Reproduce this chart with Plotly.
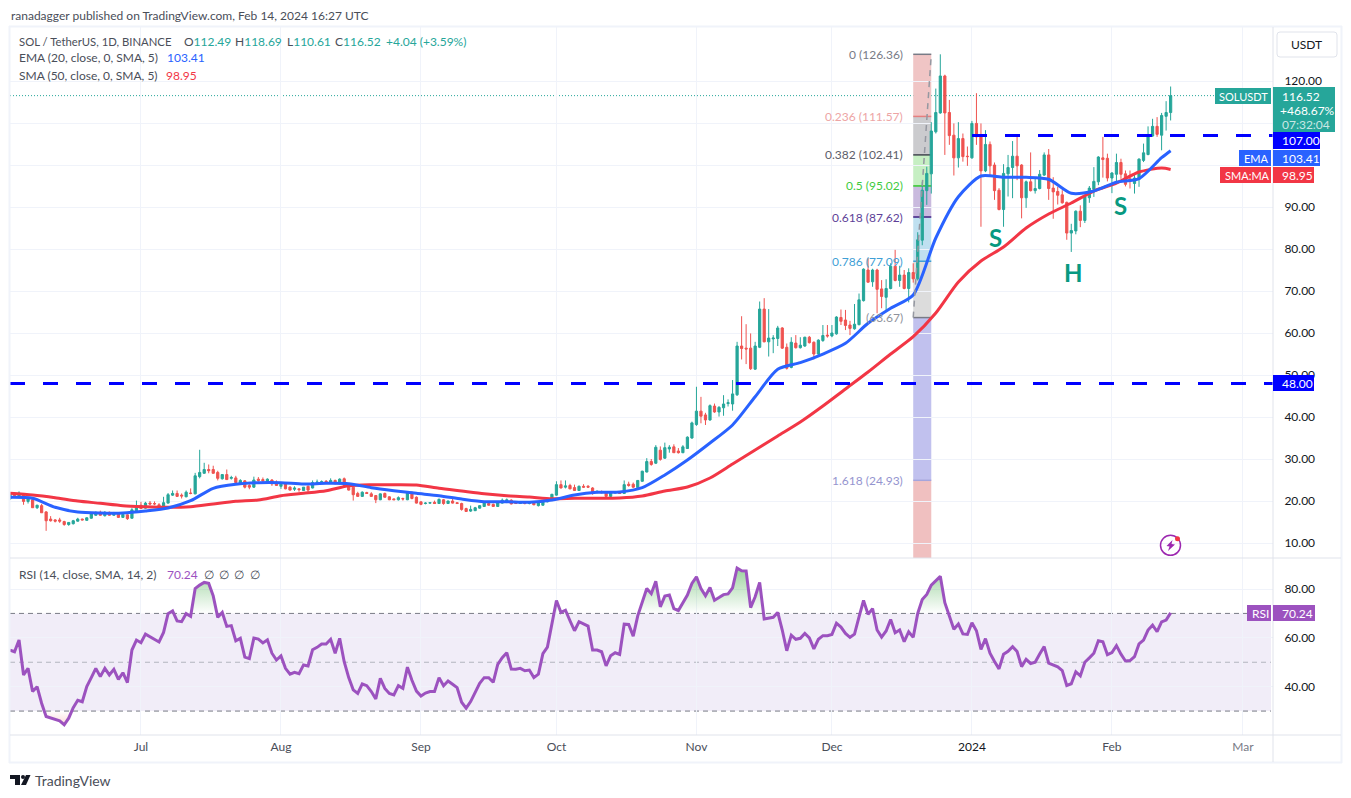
import pandas as pd
import plotly.graph_objects as go

# (open, high, low, close) per day
ohlc_jun = [
    (20.5,22.0,20.3,21.7),(21.6,21.9,21.0,21.3),(21.2,22.3,21.0,21.9),(21.7,21.9,19.1,19.9),(19.9,21.0,19.4,20.6),
    (20.3,20.6,18.4,18.4),(18.4,19.1,18.1,19.0),(18.9,19.3,17.2,17.2),(17.4,17.6,12.9,15.3),(15.7,16.4,15.1,15.3),
    (15.5,15.7,14.9,15.2),(15.5,16.0,14.8,15.2),(15.1,15.3,14.1,14.4),(14.4,15.0,14.1,14.9),(14.6,15.5,14.4,15.3),
    (15.2,16.0,15.1,15.7),(15.7,15.8,15.4,15.5),(15.4,16.1,15.3,16.0),(15.9,17.0,15.8,16.9),(16.6,17.5,16.5,17.3),
    (17.3,17.7,16.5,16.6),(16.5,17.6,16.3,17.3),(17.3,17.5,16.5,16.6),(16.6,17.4,16.5,17.1),(17.0,17.2,16.0,16.1),
    (16.1,17.0,16.0,16.8),(16.7,16.8,15.5,15.8),(15.9,18.3,15.8,17.9),(17.7,20.1,17.3,18.9),
]
ohlc_jul = [
    (19.0,19.8,18.1,18.2),(18.3,19.8,18.2,19.5),(19.5,20.0,19.0,19.3),(19.4,19.9,19.0,19.3),(19.1,19.5,18.5,18.6),
    (18.8,21.0,18.6,19.6),(19.5,21.9,19.4,21.5),(21.4,22.5,21.2,21.8),(21.8,22.5,21.0,21.1),(21.4,21.8,20.6,21.2),
    (21.0,22.5,20.9,22.1),(21.9,23.0,21.6,21.8),(21.7,26.7,21.6,26.0),(25.8,32.2,25.4,26.8),(26.6,29.1,26.5,27.5),
    (27.5,28.7,26.6,27.2),(27.5,28.4,26.5,26.6),(26.8,27.2,24.9,25.4),(25.3,26.4,25.1,26.3),(26.3,27.5,25.0,25.1),
    (25.4,26.0,25.1,25.6),(25.5,26.0,24.3,24.4),(24.3,25.2,24.0,24.9),(24.8,25.0,23.0,23.3),(23.7,24.0,22.8,23.3),
    (23.3,25.8,23.1,25.0),(25.2,25.7,24.6,24.9),(25.1,25.6,24.5,24.8),(24.5,25.4,24.4,25.2),(25.0,25.2,23.6,24.1),
    (24.5,24.9,23.6,23.7),
]
ohlc_aug = [
    (23.5,24.4,22.9,24.0),(24.2,24.5,22.8,22.9),(23.3,23.5,22.5,22.6),(22.8,23.5,22.4,23.1),(22.9,23.0,22.2,22.7),
    (22.5,23.3,22.4,23.3),(23.5,23.7,21.9,22.6),(23.1,24.9,23.0,24.4),(24.3,25.1,23.9,24.5),(24.4,24.9,24.2,24.6),
    (24.7,25.0,24.1,24.3),(24.4,25.4,24.3,24.9),(24.9,25.1,24.0,24.1),(24.1,25.4,24.0,25.2),(25.3,25.6,23.5,23.7),
    (24.0,24.2,22.5,22.6),(23.3,23.5,20.1,21.5),(21.8,22.2,21.0,21.1),(21.1,22.3,21.0,22.1),(22.0,22.2,21.7,21.8),
    (21.7,22.1,21.0,21.1),(21.3,21.4,19.5,20.3),(20.3,21.8,20.2,21.7),(21.8,22.0,20.8,20.9),(21.0,21.1,20.2,20.3),
    (20.5,20.6,20.3,20.3),(20.3,21.1,20.1,20.8),(20.6,20.8,20.1,20.5),(20.3,22.1,20.2,21.9),(21.8,22.3,20.4,20.6),
    (20.9,21.1,19.4,19.5),
]
ohlc_sep = [
    (19.8,19.9,19.0,19.2),(19.4,19.7,19.2,19.5),(19.5,19.7,19.3,19.6),(19.7,20.1,19.3,19.4),(19.4,20.6,19.3,20.4),
    (20.3,20.5,19.1,19.4),(19.4,20.1,19.3,20.0),(20.0,20.5,19.4,19.5),(19.6,19.7,19.3,19.4),(19.4,19.6,17.7,18.0),
    (18.2,18.4,17.4,17.5),(17.6,18.9,17.4,18.0),(17.7,18.6,17.6,18.4),(18.3,19.0,18.2,18.9),(18.7,19.6,18.6,19.5),
    (19.4,19.6,18.9,19.0),(19.2,19.4,18.6,18.7),(18.7,19.8,18.6,19.7),(19.5,20.6,19.4,20.2),(19.7,20.6,19.5,20.3),
    (20.2,20.4,19.2,19.3),(19.7,19.9,19.3,19.4),(19.4,19.7,19.3,19.6),(19.6,19.8,19.2,19.4),(19.4,19.7,19.2,19.6),
    (19.5,19.7,19.0,19.1),(18.9,19.7,18.7,19.5),(19.0,20.1,18.9,20.0),(19.8,20.5,19.7,20.2),(20.1,21.7,20.0,21.6),
]
ohlc_oct = [
    (21.4,24.7,21.3,23.9),(23.9,24.9,23.0,23.1),(23.3,24.9,23.0,23.6),(23.7,24.1,22.8,22.9),(23.2,23.9,22.4,22.5),
    (22.5,23.7,22.4,23.5),(23.5,24.0,23.1,23.3),(23.5,23.8,23.1,23.3),(23.1,23.3,21.5,21.8),(22.1,22.5,21.8,22.3),
    (22.2,22.5,21.8,22.0),(22.0,22.2,21.0,21.1),(21.1,22.3,21.0,22.1),(21.9,22.2,21.8,22.1),(22.0,22.2,21.7,21.8),
    (21.8,24.9,21.7,23.9),(24.0,24.6,23.4,23.7),(24.0,24.4,23.1,23.3),(23.2,25.0,23.0,24.9),(24.7,27.2,24.6,27.1),
    (26.9,30.2,26.8,29.4),(29.4,30.0,28.4,28.7),(29.0,33.3,28.8,32.8),(32.1,33.0,29.6,29.9),(30.2,33.9,30.0,32.7),
    (32.4,33.3,31.5,32.8),(32.9,33.5,31.5,31.5),(31.9,32.6,31.3,31.5),(31.5,33.3,31.4,32.9),(32.5,35.4,32.4,35.2),
    (35.0,38.9,34.8,38.6),
]
ohlc_nov = [
    (38.2,47.2,37.9,41.4),(41.4,44.8,38.5,40.2),(40.5,41.0,38.1,39.3),(39.3,43.0,39.1,42.7),(42.6,43.2,41.0,41.2),
    (41.2,42.6,40.1,42.3),(42.2,45.2,40.3,43.1),(43.2,44.2,42.5,43.4),(43.1,48.8,41.5,45.5),(45.3,57.9,45.0,56.9),
    (56.9,64.0,53.7,56.3),(56.4,62.1,52.6,56.2),(56.4,59.9,51.2,51.5),(51.4,57.9,51.2,56.9),(56.6,67.5,56.4,65.7),
    (65.7,68.3,57.8,57.9),(57.9,65.7,54.4,58.8),(58.6,59.5,55.2,58.8),(58.7,61.7,56.9,61.2),(61.2,61.4,56.2,56.4),
    (56.6,57.5,51.3,51.6),(51.8,59.0,51.6,57.8),(57.6,59.5,56.3,56.5),(56.5,59.0,56.3,57.1),(56.9,59.1,56.7,59.0),
    (59.0,59.3,57.5,57.7),(57.8,58.0,53.7,55.0),(55.0,58.5,54.4,58.3),(58.2,61.9,57.9,59.4),(59.5,61.9,58.9,59.3),
]
ohlc_dec = [
    (59.3,61.9,59.0,60.0),(59.8,64.0,59.6,63.8),(63.7,65.6,61.9,62.8),(63.1,65.5,60.7,61.8),(61.9,62.9,59.5,61.1),
    (61.0,66.9,60.8,62.1),(62.0,69.4,61.8,67.9),(67.7,75.4,67.5,75.2),(75.0,77.8,72.0,72.1),(72.2,75.3,71.0,75.0),
    (75.0,75.3,64.7,70.4),(70.5,72.6,65.9,68.7),(68.5,72.8,65.1,70.6),(70.6,76.6,70.4,75.9),(75.9,79.8,72.3,72.5),
    (72.5,76.0,71.0,73.8),(73.8,75.0,70.4,70.6),(70.6,75.4,67.3,74.4),(74.4,76.6,72.0,72.9),(72.9,84.0,72.5,82.2),
    (82.1,96.0,80.9,94.0),(93.9,99.6,90.5,98.0),(97.9,110.2,93.2,108.1),(107.9,118.2,107.5,112.5),(112.4,126.36,112.2,121.2),
    (121.2,121.5,102.4,112.4),(112.5,115.5,104.8,107.0),(107.1,109.9,97.5,101.7),(101.7,110.2,99.4,106.3),(106.3,107.5,100.8,102.0),
    (102.1,104.4,99.8,102.0),
]
ohlc_jan = [
    (101.7,110.5,101.5,109.9),(109.9,117.1,104.8,106.7),(106.9,109.9,85.3,98.6),(98.6,108.3,98.3,104.9),(104.9,105.6,97.6,99.8),
    (100.0,100.6,91.7,93.9),(94.0,94.5,89.2,89.4),(89.4,100.2,85.3,98.0),(97.9,102.4,92.5,99.4),(99.4,105.7,92.1,102.1),
    (102.1,107.3,96.4,99.8),(100.0,100.2,87.3,92.2),(92.2,96.3,89.8,96.0),(96.0,103.0,93.7,93.9),(93.9,96.8,93.2,94.4),
    (94.4,98.8,94.2,97.8),(97.6,103.0,97.4,102.4),(102.4,103.8,91.7,94.4),(94.5,97.1,87.2,93.6),(93.7,94.8,90.6,92.8),
    (92.9,94.0,90.8,91.0),(91.1,91.3,82.2,83.8),(83.8,86.0,79.3,84.4),(84.3,89.2,83.5,89.0),(89.0,90.4,85.2,86.8),
    (86.8,92.8,86.2,92.5),(92.2,95.0,91.0,94.5),(94.2,99.5,92.4,96.1),(96.0,102.1,95.2,101.9),(101.7,106.7,97.0,101.3),
    (101.6,102.7,96.1,96.9),
]
ohlc_feb = [
    (96.9,98.3,93.3,98.1),(97.8,102.7,95.6,100.6),(100.6,101.5,96.7,97.8),(97.9,98.7,94.9,95.4),(96.7,98.7,94.4,96.3),
    (95.6,97.9,93.2,96.9),(96.6,101.6,94.8,101.4),(101.1,105.1,100.7,102.9),(102.5,109.2,102.3,107.1),(106.9,111.0,106.7,109.2),
    (109.2,111.4,106.7,107.3),(107.1,112.4,103.5,111.8),(111.6,115.2,108.2,112.5),(112.49,118.69,110.61,116.52),
]

# RSI per day
rsi_jun = [55.0,54.3,59.1,44.8,47.5,38.0,40.0,33.2,27.8,27.3,26.5,26.0,24.4,27.1,31.4,34.4,33.8,40.0,43.7,47.5,44.1,47.5,44.8,47.1,43.0,45.7,41.7,55.0,59.1]
rsi_jul = [58.0,61.5,60.4,59.4,58.3,62.2,69.9,71.0,66.9,66.6,69.9,68.8,80.2,81.6,82.7,82.3,77.2,68.4,70.4,64.7,65.0,58.8,59.8,52.1,51.5,59.9,59.5,57.9,59.2,53.7,50.9]
rsi_aug = [52.6,47.5,45.1,45.9,45.3,48.9,48.5,55.1,56.1,57.5,57.5,59.4,53.7,59.8,50.2,43.7,38.7,37.2,41.1,40.4,38.0,35.0,43.4,39.3,37.2,36.6,40.4,39.3,48.0,42.6,38.2]
rsi_sep = [36.2,37.4,38.0,38.0,43.7,40.4,42.3,41.0,39.6,33.6,31.2,33.9,37.7,41.4,43.7,43.7,41.8,49.1,51.9,53.9,47.2,47.1,47.5,46.5,46.8,43.7,45.1,53.5,56.2,66.6]
rsi_oct = [75.3,70.4,71.3,67.0,62.9,66.6,65.6,64.8,55.0,55.0,54.3,48.5,52.7,53.9,53.2,65.6,65.5,60.7,69.0,75.0,80.2,78.1,83.2,72.7,77.1,77.5,72.0,71.2,74.1,77.5,82.3]
rsi_nov = [85.0,80.2,77.2,80.6,75.4,76.5,77.7,78.0,80.5,88.6,87.5,87.4,72.4,76.8,82.7,67.7,68.2,68.4,70.4,63.2,54.7,61.1,59.4,59.8,61.8,60.0,55.5,59.4,60.9,60.9]
rsi_dec = [61.4,66.0,64.4,61.8,60.2,61.5,68.6,75.3,69.6,72.0,63.2,60.3,62.8,67.5,62.1,63.2,58.4,62.5,60.2,70.0,75.7,77.8,81.6,83.3,85.2,74.4,69.3,63.5,65.7,61.6,61.4]
rsi_jan = [66.2,62.9,55.3,59.7,53.7,50.3,47.3,53.3,54.5,56.4,54.4,48.2,51.2,49.5,50.0,53.4,56.4,49.6,48.9,48.1,46.6,40.5,41.2,46.1,44.4,50.0,51.8,53.7,58.8,58.4,53.1]
rsi_feb = [54.0,56.8,53.3,50.5,50.7,52.3,57.5,59.1,63.2,65.2,62.5,66.5,67.3,70.24]

# moving averages, read every 5 days plus the last bar
ema_values = [20.88,20.64,18.50,17.38,17.14,17.14,17.62,18.33,20.07,23.02,23.98,24.36,24.36,24.05,24.21,24.12,23.17,22.45,
              21.83,21.26,20.48,19.83,19.83,19.69,20.24,21.43,22.07,22.14,23.17,26.19,29.76,33.81,38.10,44.83,51.36,52.93,
              55.00,57.55,62.31,65.88,69.05,82.62,92.45,97.38,97.07,97.07,96.60,93.26,93.81,95.88,96.74,101.74,103.41]
sma_values = [21.83,21.43,20.79,20.00,19.45,18.88,18.64,18.50,18.64,19.29,19.93,20.24,21.26,21.83,22.45,23.64,23.88,23.88,
              23.81,23.02,22.38,21.74,21.26,20.95,20.55,20.64,20.64,20.71,21.19,22.38,23.33,25.48,28.81,32.14,35.48,38.81,
              42.62,46.67,50.71,55.00,59.12,64.76,72.14,77.14,80.48,85.00,88.33,90.95,93.81,95.71,98.33,99.29,98.95]

month_ticks = ["2023-07-01","2023-08-01","2023-09-01","2023-10-01","2023-11-01","2023-12-01","2024-01-01","2024-02-01","2024-03-01"]
month_labels = ["Jul","Aug","Sep","Oct","Nov","Dec",'<span style="color:#131722">2024</span>',"Feb",'<span style="color:#787b86">Mar</span>']
price_ticks = [10,20,30,40,50,60,70,80,90,100,110,120]
# 100 and 110 sit behind the axis tags in the original
price_labels = ["10.00","20.00","30.00","40.00","50.00","60.00","70.00","80.00","90.00","","","120.00"]
rsi_ticks = [40,60,80]

fib_prices = [126.36,111.57,102.41,95.02,87.62,77.09,63.67,24.93]
fib_labels = ["0 (126.36)","0.236 (111.57)","0.382 (102.41)","0.5 (95.02)","0.618 (87.62)","0.786 (77.09)","(63.67)","1.618 (24.93)"]
fib_text = ["#787b86","#eda5a5","#5d606b","#3fcb3f","#5e3f98","#3f9fd6","#8f929c","#9595cf"]
fib_lines = ["#787b86","#e57f7f","#434651","#33c92d","#3f1d82","#3f9fd6","#787b86","#a5a5dc"]
fib_fills = ["#f0c5c5","#cbcbce","#c6efc3","#c9bade","#bfe0f0","#dcdcdc","#c1c1ee","#f0c0c0"]

W, H = 1351, 798
UP, DOWN = "#26a69a", "#ef5350"
BLUE, RED, PURPLE = "#2962ff", "#f23645", "#9c52bf"
FONT = "Lato"
PRICE_RANGE = [6.43, 132.86]
RSI_RANGE = [20.2, 92.7]
END = "2024-03-07 16:00"


def px(x):
    return x / W


def py(y):
    return 1 - y / H


ohlc = ohlc_jun + ohlc_jul + ohlc_aug + ohlc_sep + ohlc_oct + ohlc_nov + ohlc_dec + ohlc_jan + ohlc_feb
rsi = rsi_jun + rsi_jul + rsi_aug + rsi_sep + rsi_oct + rsi_nov + rsi_dec + rsi_jan + rsi_feb
df = pd.DataFrame(ohlc, columns=["open", "high", "low", "close"])
df["date"] = pd.date_range("2023-06-02", periods=len(df))
df["rsi"] = rsi
ma_dates = list(pd.date_range("2023-06-02", periods=52, freq="5D")) + [pd.Timestamp("2024-02-14")]

fig = go.Figure()

fig.add_trace(go.Candlestick(
    x=df["date"], open=df["open"], high=df["high"], low=df["low"], close=df["close"],
    increasing=dict(line=dict(color=UP, width=1), fillcolor=UP),
    decreasing=dict(line=dict(color=DOWN, width=1), fillcolor=DOWN),
    whiskerwidth=0, xaxis="x", yaxis="y",
))
fig.add_trace(go.Scatter(x=ma_dates, y=sma_values, mode="lines", xaxis="x", yaxis="y",
                         line=dict(color=RED, width=3, shape="spline", smoothing=0.7)))
fig.add_trace(go.Scatter(x=ma_dates, y=ema_values, mode="lines", xaxis="x", yaxis="y",
                         line=dict(color=BLUE, width=3, shape="spline", smoothing=0.7)))

# RSI overbought / oversold gradients
clear = "rgba(0,0,0,0)"
fig.add_trace(go.Scatter(x=df["date"], y=[70] * len(df), mode="lines", line=dict(color=clear, width=0), xaxis="x2", yaxis="y2"))
fig.add_trace(go.Scatter(
    x=df["date"], y=df["rsi"].clip(lower=70), mode="lines", line=dict(color=clear, width=0), fill="tonexty",
    fillgradient=dict(type="vertical", start=70, stop=90,
                      colorscale=[[0, "rgba(76,175,80,0)"], [1, "rgba(76,175,80,0.6)"]]),
    xaxis="x2", yaxis="y2"))
fig.add_trace(go.Scatter(x=df["date"], y=[30] * len(df), mode="lines", line=dict(color=clear, width=0), xaxis="x2", yaxis="y2"))
fig.add_trace(go.Scatter(
    x=df["date"], y=df["rsi"].clip(upper=30), mode="lines", line=dict(color=clear, width=0), fill="tonexty",
    fillgradient=dict(type="vertical", start=30, stop=20,
                      colorscale=[[0, "rgba(239,83,80,0)"], [1, "rgba(239,83,80,0.4)"]]),
    xaxis="x2", yaxis="y2"))
fig.add_trace(go.Scatter(x=df["date"], y=df["rsi"], mode="lines", line=dict(color=PURPLE, width=3), xaxis="x2", yaxis="y2"))

shapes = []
notes = []


def box(x0, y0, x1, y1, color, line=None):
    shapes.append(dict(type="rect", xref="paper", yref="paper", x0=px(x0), x1=px(x1), y0=py(y0), y1=py(y1),
                       fillcolor=color, line=dict(color=line or color, width=1 if line else 0), layer="above"))


def text(x, y, s, color="#4a4e59", size=12, anchor="left", **kw):
    notes.append(dict(xref="paper", yref="paper", x=px(x), y=py(y), text=s, showarrow=False, xanchor=anchor,
                      yanchor="middle", font=dict(family=FONT, size=size, color=color), borderpad=0, **kw))


def hline(x0, x1, y, color="#e0e3eb", width=1):
    shapes.append(dict(type="line", xref="paper", yref="paper", x0=px(x0), x1=px(x1), y0=py(y), y1=py(y),
                       line=dict(color=color, width=width), layer="above"))


def vline(x, y0, y1, color="#e0e3eb", width=1):
    shapes.append(dict(type="line", xref="paper", yref="paper", x0=px(x), x1=px(x), y0=py(y0), y1=py(y1),
                       line=dict(color=color, width=width), layer="above"))


# fibonacci bands
fib_start, fib_end = "2023-12-19", "2023-12-23"
fib_bottoms = fib_prices[1:] + [PRICE_RANGE[0]]
for top, bottom, fill in zip(fib_prices, fib_bottoms, fib_fills):
    shapes.append(dict(type="rect", xref="x", yref="y", x0=fib_start, x1=fib_end, y0=bottom, y1=top,
                       fillcolor=fill, line=dict(width=0), layer="below"))
for level, label, tcol, lcol in zip(fib_prices, fib_labels, fib_text, fib_lines):
    shapes.append(dict(type="line", xref="x", yref="y", x0=fib_start, x1=fib_end, y0=level, y1=level,
                       line=dict(color=lcol, width=1.5), layer="below"))
    notes.append(dict(xref="paper", yref="y", x=px(904), y=level, text=label, showarrow=False, xanchor="right",
                      yanchor="middle", font=dict(family=FONT, size=12, color=tcol), borderpad=0))
shapes.append(dict(type="line", xref="x", yref="y", x0=fib_start, x1=fib_end, y0=fib_prices[6], y1=fib_prices[0],
                   line=dict(color="#9598a1", width=1.5, dash="6px,5px"), layer="above"))

# levels
shapes.append(dict(type="line", xref="paper", yref="y", x0=px(972), x1=px(1273), y0=107, y1=107,
                   line=dict(color="#0000ff", width=3, dash="15px,18px"), layer="above"))
shapes.append(dict(type="line", xref="paper", yref="y", x0=px(10), x1=px(1273), y0=48, y1=48,
                   line=dict(color="#0000ff", width=3, dash="15px,18px"), layer="above"))
shapes.append(dict(type="line", xref="paper", yref="y", x0=px(10), x1=px(1273), y0=116.52, y1=116.52,
                   line=dict(color=UP, width=1, dash="1px,2px"), layer="below"))

# RSI band
shapes.append(dict(type="rect", xref="paper", yref="y2", x0=px(10), x1=px(1271), y0=30, y1=70,
                   fillcolor="rgba(126,87,194,0.11)", line=dict(width=0), layer="below"))
for level, col in [(70, "#787b86"), (50, "#b2b5be"), (30, "#787b86")]:
    shapes.append(dict(type="line", xref="paper", yref="y2", x0=px(10), x1=px(1271), y0=level, y1=level,
                       line=dict(color=col, width=1, dash="5px,4px"), layer="below"))

# frame
hline(9, 1342, 26.5, "#f0f3fa", 2)
hline(9, 1342, 762.5, "#f0f3fa", 2)
vline(9.5, 26, 763, "#f0f3fa", 2)
vline(1341.5, 26, 763, "#f0f3fa", 2)
hline(10, 1341, 558)
hline(10, 1341, 735)
vline(1273, 27, 762)

# USDT button
shapes.append(dict(type="path", xref="paper", yref="paper", layer="above", line=dict(color="#e0e3eb", width=1),
                   path="M {} {} L {} {} Q {} {} {} {} L {} {} Q {} {} {} {} L {} {} Q {} {} {} {} L {} {} Q {} {} {} {} Z".format(
                       px(1280), py(32), px(1334), py(32), px(1337), py(32), px(1337), py(35),
                       px(1337), py(54), px(1337), py(57), px(1334), py(57),
                       px(1280), py(57), px(1277), py(57), px(1277), py(54),
                       px(1277), py(35), px(1277), py(32), px(1280), py(32))))
text(1306, 44.5, "USDT", "#131722", anchor="center")

# axis tags
box(1215, 88, 1271, 104, UP)
text(1218, 96, "SOLUSDT", "#ffffff", size=11)
box(1273, 87, 1335, 132, UP)
text(1281, 96, "116.52", "#ffffff")
text(1279, 110, "+468.67%", "#ffffff")
text(1281, 124, "07:32:04", "rgba(255,255,255,0.75)")
box(1273, 132, 1320, 149, "#0000ff")
text(1281, 141, "107.00", "#ffffff")
box(1239, 150, 1271, 166, BLUE)
text(1243, 158, "EMA", "#ffffff", size=11)
box(1273, 150, 1320, 166, BLUE)
text(1281, 158, "103.41", "#ffffff")
box(1220, 167, 1271, 183, RED)
text(1224, 175, "SMA:MA", "#ffffff", size=11)
box(1273, 167, 1314, 183, RED)
text(1281, 175, "98.95", "#ffffff")
box(1273, 375, 1314, 391, "#0000ff")
text(1281, 383, "48.00", "#ffffff")
box(1247, 605, 1271, 621, PURPLE)
text(1251, 613, "RSI", "#ffffff")
box(1273, 605, 1315, 621, PURPLE)
text(1281, 613, "70.24", "#ffffff")

# legends
text(10, 15, "ranadagger published on TradingView.com, Feb 14, 2024 16:27 UTC")
text(18, 42, "SOL / TetherUS, 1D, BINANCE", size=11.3)
ohlc_xs = [183, 234, 286, 334]
ohlc_keys = ["O112.49", "H118.69", "L110.61", "C116.52"]
for x, key in zip(ohlc_xs, ohlc_keys):
    text(x, 42, '{}<span style="color:{}">{}</span>'.format(key[0], UP, key[1:]))
text(385, 42, "+4.04 (+3.59%)", UP)
text(18, 58, "EMA (20, close, 0, SMA, 5)")
text(166, 58, "103.41", BLUE)
text(18, 75, "SMA (50, close, 0, SMA, 5)")
text(165, 75, "98.95", RED)
text(18, 574, "RSI (14, close, SMA, 14, 2)")
text(166, 574, "70.24", PURPLE)
for x in [203, 218, 233, 249]:
    text(x, 574, "∅")

# pattern labels
for x, y, s in [(995, 237, "S"), (1073.5, 272, "H"), (1120.5, 205, "S")]:
    text(x, y, "<b>{}</b>".format(s), "#089981", size=24, anchor="center")

# lightning badge
shapes.append(dict(type="circle", xref="paper", yref="paper", x0=px(1160.5), x1=px(1180.5), y0=py(555.3), y1=py(535.3),
                   line=dict(color="#9c27b0", width=1.5), layer="above"))
shapes.append(dict(type="path", xref="paper", yref="paper", layer="above", fillcolor="#9c27b0", line=dict(width=0),
                   path="M {} {} L {} {} L {} {} L {} {} L {} {} L {} {} Z".format(
                       px(1172.5), py(540), px(1166.5), py(546), px(1169.5), py(546.5),
                       px(1168), py(551), px(1175), py(544.5), px(1171.5), py(544))))
shapes.append(dict(type="circle", xref="paper", yref="paper", x0=px(1175), x1=px(1180), y0=py(541.2), y1=py(536.2),
                   fillcolor="#f23645", line=dict(width=0), layer="above"))

# logo
shapes.append(dict(type="path", xref="paper", yref="paper", layer="above", fillcolor="#131722", line=dict(width=0),
                   path="M {} {} L {} {} L {} {} L {} {} L {} {} L {} {} Z".format(
                       px(10), py(775), px(20), py(775), px(20), py(785), px(15), py(785), px(15), py(779), px(10), py(779))))
shapes.append(dict(type="circle", xref="paper", yref="paper", x0=px(21), x1=px(25), y0=py(779), y1=py(775),
                   fillcolor="#131722", line=dict(width=0), layer="above"))
shapes.append(dict(type="path", xref="paper", yref="paper", layer="above", fillcolor="#131722", line=dict(width=0),
                   path="M {} {} L {} {} L {} {} L {} {} Z".format(
                       px(26), py(775), px(30.5), py(775), px(26), py(785), px(21), py(785))))
text(34, 780, "TradingView", "#4a4e59", size=14)

grid = "#f0f3fa"
fig.update_layout(
    width=W, height=H, margin=dict(l=0, r=0, t=0, b=0), autosize=False,
    paper_bgcolor="#ffffff", plot_bgcolor="#ffffff", showlegend=False,
    font=dict(family=FONT, size=12, color="#131722"),
    shapes=shapes, annotations=notes,
    xaxis=dict(domain=[px(10), px(1273)], range=["2023-06-02", END], anchor="y", matches="x2",
               rangeslider=dict(visible=False), tickvals=month_ticks, showticklabels=False, ticks="",
               gridcolor=grid, gridwidth=1, zeroline=False, showline=False),
    yaxis=dict(domain=[py(558), py(27)], range=PRICE_RANGE, side="right", anchor="x", tickvals=price_ticks,
               ticktext=price_labels, ticks="outside", ticklen=8, tickcolor="rgba(0,0,0,0)", gridcolor=grid,
               gridwidth=1, zeroline=False, showline=False),
    xaxis2=dict(domain=[px(10), px(1273)], range=["2023-06-02", END], anchor="y2", tickvals=month_ticks,
                ticktext=month_labels, ticks="outside", ticklen=1, tickcolor="rgba(0,0,0,0)",
                tickfont=dict(family=FONT, size=12, color="#4a4e59"), gridcolor=grid, gridwidth=1,
                zeroline=False, showline=False),
    yaxis2=dict(domain=[py(735), py(558)], range=RSI_RANGE, side="right", anchor="x2", tickvals=rsi_ticks,
                tickformat=".2f", ticks="outside", ticklen=8, tickcolor="rgba(0,0,0,0)", gridcolor=grid,
                gridwidth=1, zeroline=False, showline=False),
)

fig.write_html("out.html", config=dict(displayModeBar=False),
               post_script="document.body.style.margin='0';document.documentElement.style.overflow='hidden';")
